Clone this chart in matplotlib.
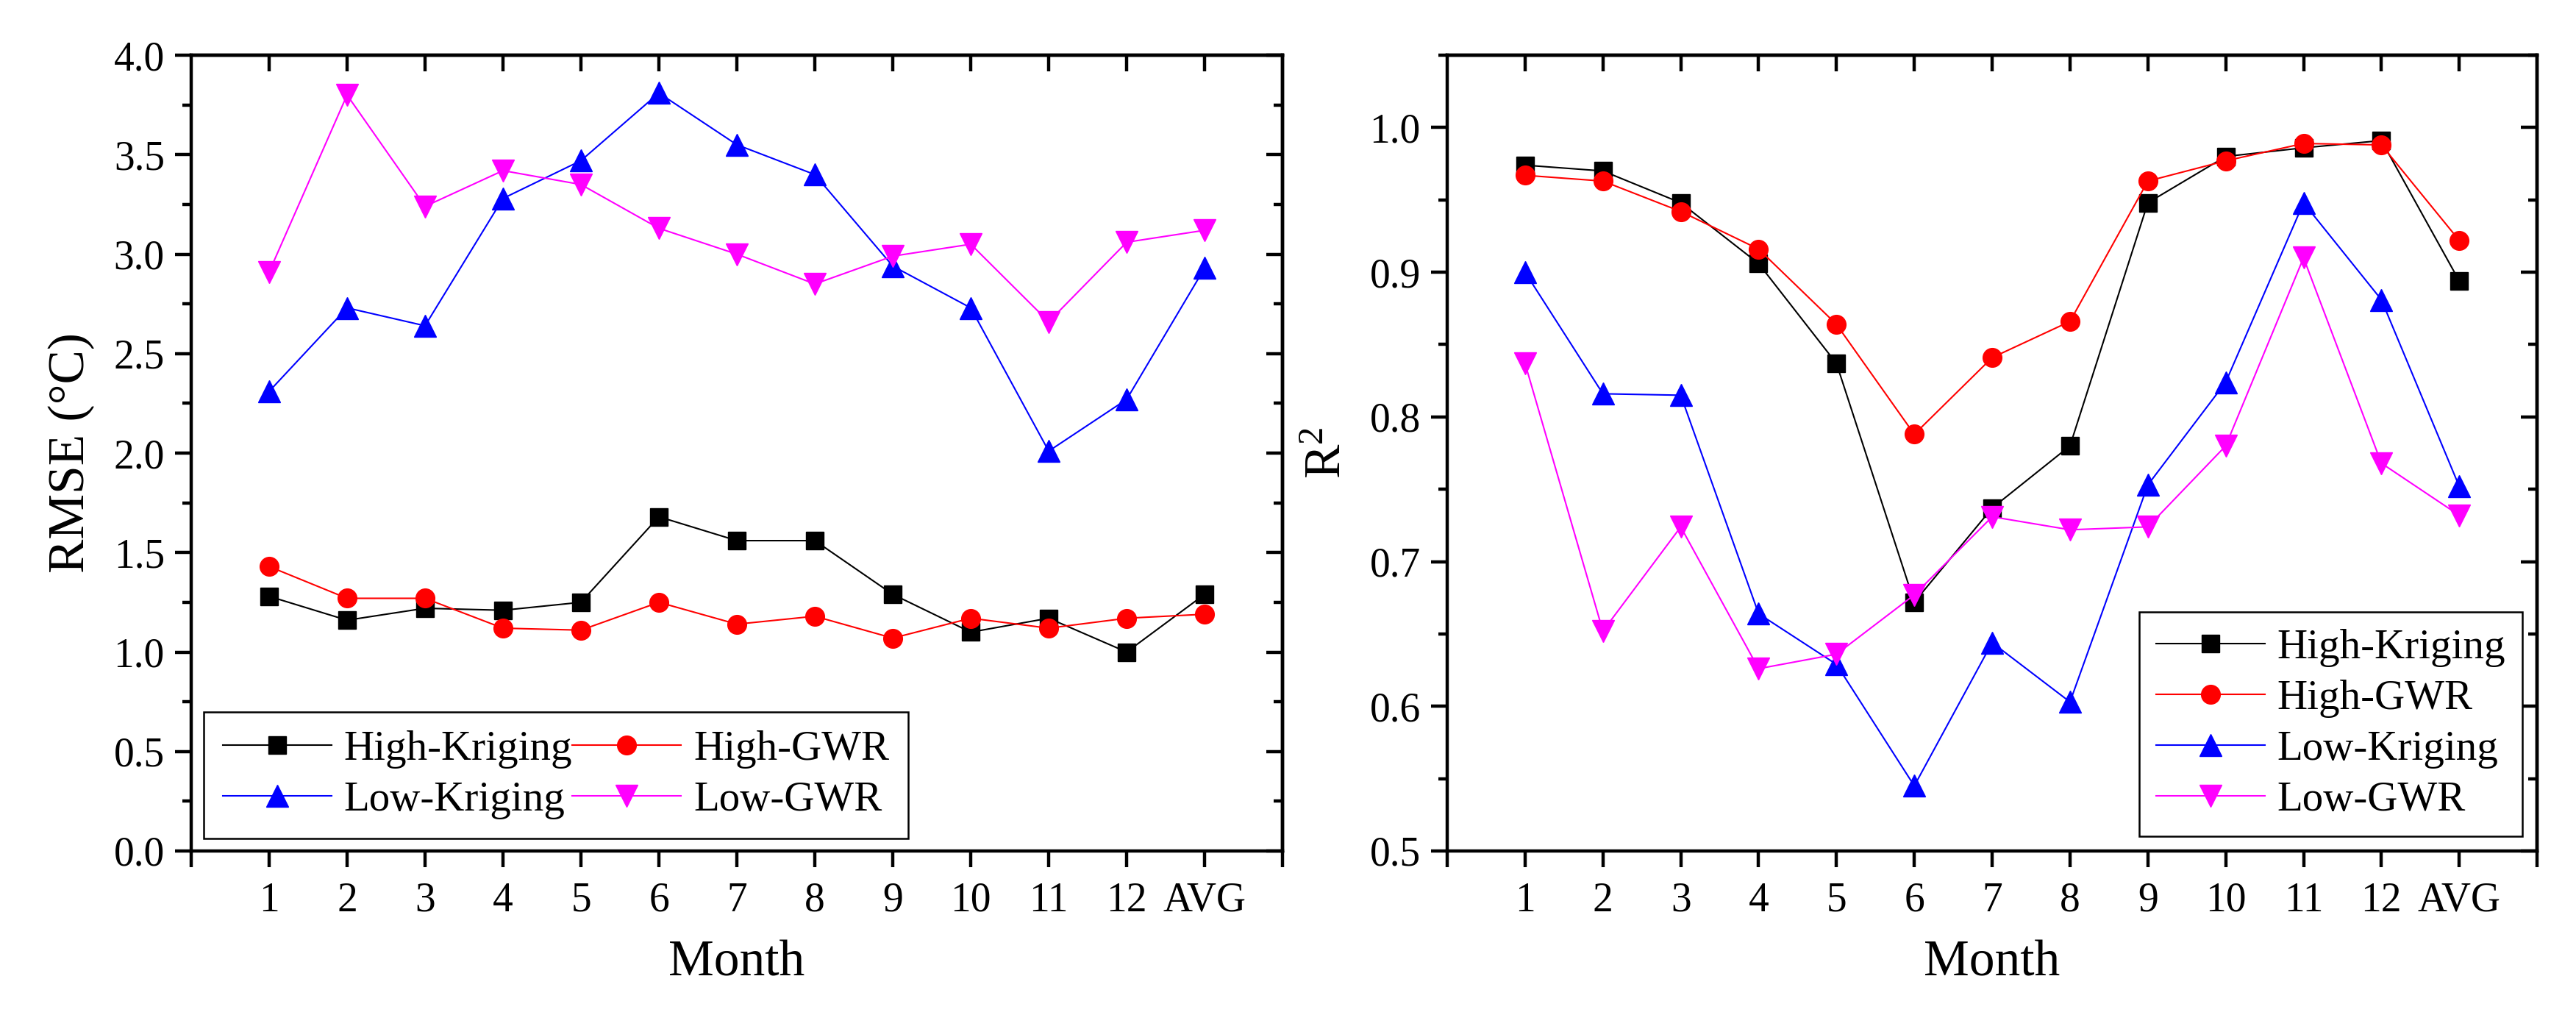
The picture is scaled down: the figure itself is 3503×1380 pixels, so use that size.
import numpy as np
import matplotlib
matplotlib.use('Agg')
import matplotlib.pyplot as plt
from matplotlib.ticker import MultipleLocator, FormatStrFormatter

plt.rcParams['font.family'] = ['Liberation Serif', 'DejaVu Serif']
plt.rcParams['mathtext.fontset'] = 'custom'
plt.rcParams['mathtext.rm'] = 'Liberation Serif'
plt.rcParams['mathtext.it'] = 'Liberation Serif:italic'

months = ['1', '2', '3', '4', '5', '6', '7', '8', '9', '10', '11', '12', 'AVG']
series_names = ['High-Kriging', 'High-GWR', 'Low-Kriging', 'Low-GWR']

# RMSE (°C)
rmse_high_kriging = [1.28, 1.16, 1.22, 1.21, 1.25, 1.68, 1.56, 1.56, 1.29, 1.10, 1.17, 1.00, 1.29]
rmse_high_gwr = [1.43, 1.27, 1.27, 1.12, 1.11, 1.25, 1.14, 1.18, 1.07, 1.17, 1.12, 1.17, 1.19]
rmse_low_kriging = [2.31, 2.73, 2.64, 3.28, 3.47, 3.81, 3.55, 3.40, 2.94, 2.73, 2.01, 2.27, 2.93]
rmse_low_gwr = [2.91, 3.80, 3.24, 3.42, 3.35, 3.13, 3.00, 2.85, 2.99, 3.05, 2.66, 3.06, 3.12]

# R^2
r2_high_kriging = [0.974, 0.970, 0.948, 0.906, 0.837, 0.672, 0.737, 0.780, 0.948, 0.980, 0.986, 0.991, 0.894]
r2_high_gwr = [0.967, 0.963, 0.942, 0.916, 0.864, 0.788, 0.841, 0.866, 0.963, 0.977, 0.989, 0.988, 0.922]
r2_low_kriging = [0.900, 0.816, 0.815, 0.664, 0.629, 0.545, 0.644, 0.603, 0.753, 0.824, 0.948, 0.881, 0.752]
r2_low_gwr = [0.837, 0.652, 0.724, 0.626, 0.636, 0.677, 0.731, 0.722, 0.724, 0.780, 0.910, 0.768, 0.732]

colors = ['black', 'red', 'blue', 'magenta']
markers = ['s', 'o', '^', 'v']
msizes = [17, 18.5, 21, 21]

TICK_FS = 40
LEG_FS = 41
LABEL_FS = 50
SPINE_W = 3.2

x = np.arange(1, len(months) + 1)

fig = plt.figure(figsize=(35.03, 13.8), dpi=100)
ax1 = fig.add_axes([0.0742, 0.1616, 0.4237, 0.784])
ax2 = fig.add_axes([0.5618, 0.1616, 0.4231, 0.784])


def style_axes(ax, ymin, ymax, ymajor, yminor):
    ax.set_xlim(0, 14)
    ax.set_ylim(ymin, ymax)
    ax.set_xticks(np.arange(0, 15))
    ax.set_xticklabels([''] + months + [''])
    ax.yaxis.set_major_locator(MultipleLocator(ymajor))
    ax.yaxis.set_minor_locator(MultipleLocator(yminor))
    ax.yaxis.set_major_formatter(FormatStrFormatter('%.1f'))
    for sp in ax.spines.values():
        sp.set_linewidth(SPINE_W)
    ax.tick_params(which='major', direction='out', length=16, width=SPINE_W,
                   labelsize=TICK_FS, pad=10)
    ax.tick_params(which='minor', direction='out', length=9, width=SPINE_W)
    ax.tick_params(axis='x', which='major', pad=14)
    # mirrored ticks on top / right, pointing inward
    top = ax.secondary_xaxis('top')
    top.set_xticks(x)
    top.tick_params(direction='in', length=16, width=SPINE_W, labeltop=False)
    top.spines['top'].set_linewidth(SPINE_W)
    right = ax.secondary_yaxis('right')
    right.yaxis.set_major_locator(MultipleLocator(ymajor))
    right.yaxis.set_minor_locator(MultipleLocator(yminor))
    right.tick_params(which='major', direction='in', length=16, width=SPINE_W, labelright=False)
    right.tick_params(which='minor', direction='in', length=9, width=SPINE_W, labelright=False)
    right.spines['right'].set_linewidth(SPINE_W)
    ax.set_xlabel('Month', fontsize=LABEL_FS, labelpad=20)


rmse = [rmse_high_kriging, rmse_high_gwr, rmse_low_kriging, rmse_low_gwr]
r2 = [r2_high_kriging, r2_high_gwr, r2_low_kriging, r2_low_gwr]

lines1 = []
for vals, name, c, m, ms in zip(rmse, series_names, colors, markers, msizes):
    ln, = ax1.plot(x, vals, color=c, marker=m, markersize=ms, linewidth=1.5, label=name)
    lines1.append(ln)
for vals, name, c, m, ms in zip(r2, series_names, colors, markers, msizes):
    ax2.plot(x, vals, color=c, marker=m, markersize=ms, linewidth=1.5, label=name)

style_axes(ax1, 0.0, 4.0, 0.5, 0.25)
style_axes(ax2, 0.5, 1.05, 0.1, 0.05)

ax1.set_ylabel('RMSE (°C)', fontsize=LABEL_FS, labelpad=18)
ax2.set_ylabel('R$^2$', fontsize=LABEL_FS, labelpad=18)

# row-wise order for the two-column legend
order = [0, 2, 1, 3]
leg1 = ax1.legend([lines1[i] for i in order], [series_names[i] for i in order],
                  loc='lower left', ncol=2, fontsize=LEG_FS, frameon=True, fancybox=False,
                  edgecolor='black', framealpha=1, handlelength=2.6, columnspacing=0.0,
                  handletextpad=0.3, labelspacing=0.3, borderaxespad=0.3, borderpad=0.45)
leg1.get_frame().set_linewidth(1.8)

leg2 = ax2.legend(loc='lower right', ncol=1, fontsize=LEG_FS, frameon=True, fancybox=False,
                  edgecolor='black', framealpha=1, handlelength=2.6,
                  handletextpad=0.3, labelspacing=0.3, borderaxespad=0.35, borderpad=0.4)
leg2.get_frame().set_linewidth(1.8)

fig.savefig('out.png', dpi=100)
plt.close(fig)
